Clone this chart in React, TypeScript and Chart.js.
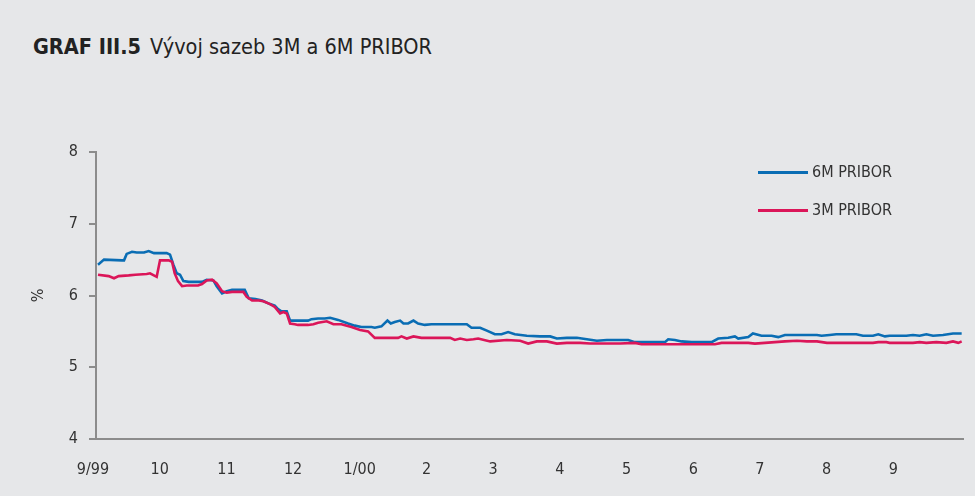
import React, { useEffect, useRef } from "react";
import { Chart, registerables } from "chart.js";

Chart.register(...registerables);

// x positions are in months since the start of September 1999
const MONTH_LABELS = ["9/99", "10", "11", "12", "1/00", "2", "3", "4", "5", "6", "7", "8", "9"];

const PRIBOR_6M_X = [
  0.03, 0.12, 0.39, 0.42, 0.46, 0.54, 0.61, 0.72, 0.79, 0.87, 1.06, 1.11, 1.16, 1.21, 1.26, 1.31,
  1.39, 1.59, 1.66, 1.76, 1.81, 1.89, 1.96, 2.04, 2.23, 2.29, 2.39, 2.49, 2.61, 2.68, 2.73, 2.78,
  2.86, 2.91, 2.98, 3.18, 3.23, 3.33, 3.43, 3.51, 3.63, 3.78, 3.88, 3.98, 4.13, 4.18, 4.28, 4.37,
  4.42, 4.48, 4.56, 4.61, 4.68, 4.76, 4.83, 4.93, 5.03, 5.56, 5.63, 5.76, 5.86, 5.98, 6.08, 6.18,
  6.28, 6.46, 6.66, 6.81, 6.91, 7.06, 7.21, 7.36, 7.51, 7.66, 7.98, 8.08, 8.53, 8.58, 8.68, 8.78,
  8.93, 9.23, 9.33, 9.48, 9.58, 9.63, 9.78, 9.85, 9.98, 10.13, 10.23, 10.33, 10.81, 10.88, 11.0,
  11.1, 11.4, 11.5, 11.65, 11.73, 11.83, 11.9, 12.15, 12.25, 12.35, 12.45, 12.55, 12.7, 12.85, 12.98,
];
const PRIBOR_6M = [
  6.43, 6.5, 6.49, 6.49, 6.58, 6.61, 6.6, 6.6, 6.62, 6.59, 6.59, 6.57, 6.43, 6.31, 6.29, 6.2,
  6.19, 6.19, 6.22, 6.21, 6.13, 6.03, 6.06, 6.08, 6.08, 5.96, 5.95, 5.93, 5.88, 5.86, 5.81, 5.78,
  5.78, 5.65, 5.65, 5.65, 5.67, 5.68, 5.68, 5.69, 5.66, 5.61, 5.58, 5.56, 5.56, 5.55, 5.57, 5.65,
  5.61, 5.63, 5.65, 5.61, 5.61, 5.65, 5.61, 5.59, 5.6, 5.6, 5.55, 5.55, 5.51, 5.46, 5.46, 5.49,
  5.46, 5.44, 5.43, 5.43, 5.4, 5.41, 5.41, 5.39, 5.37, 5.38, 5.38, 5.35, 5.35, 5.39, 5.38, 5.36,
  5.35, 5.35, 5.4, 5.41, 5.43, 5.4, 5.42, 5.47, 5.44, 5.44, 5.42, 5.45, 5.45, 5.44, 5.45,
  5.46, 5.46, 5.44, 5.44, 5.46, 5.43, 5.44, 5.44, 5.45, 5.44, 5.46, 5.44, 5.45, 5.47, 5.47,
];

const PRIBOR_3M_X = [
  0.03, 0.19, 0.27, 0.34, 0.49, 0.59, 0.76, 0.81, 0.91, 0.96, 1.09, 1.14, 1.18, 1.23, 1.29, 1.36,
  1.53, 1.59, 1.66, 1.74, 1.81, 1.89, 1.96, 2.04, 2.21, 2.26, 2.34, 2.44, 2.51, 2.61, 2.68, 2.76,
  2.81, 2.86, 2.91, 2.98, 3.03, 3.18, 3.26, 3.33, 3.46, 3.56, 3.68, 3.83, 3.96, 4.08, 4.18, 4.53,
  4.58, 4.66, 4.76, 4.88, 5.31, 5.38, 5.46, 5.56, 5.66, 5.73, 5.91, 6.16, 6.36, 6.48, 6.61, 6.76,
  6.91, 7.06, 7.26, 7.41, 7.86, 8.08, 8.18, 9.28, 9.38, 9.78, 9.88, 10.03, 10.18, 10.33, 10.51,
  10.66, 10.81, 10.96, 11.65, 11.73, 11.85, 11.9, 12.25, 12.35, 12.45, 12.6, 12.75, 12.85, 12.93, 12.98,
];
const PRIBOR_3M = [
  6.29, 6.27, 6.24, 6.27, 6.28, 6.29, 6.3, 6.31, 6.26, 6.49, 6.49, 6.47, 6.31, 6.2, 6.13, 6.14,
  6.14, 6.16, 6.21, 6.22, 6.17, 6.06, 6.04, 6.05, 6.05, 5.98, 5.93, 5.93, 5.92, 5.88, 5.84, 5.75,
  5.77, 5.75, 5.61, 5.6, 5.59, 5.59, 5.6, 5.62, 5.64, 5.6, 5.6, 5.56, 5.52, 5.5, 5.41, 5.41,
  5.43, 5.4, 5.43, 5.41, 5.41, 5.38, 5.4, 5.38, 5.39, 5.4, 5.36, 5.38, 5.37, 5.33, 5.36, 5.36,
  5.33, 5.34, 5.34, 5.33, 5.33, 5.34, 5.32, 5.32, 5.34, 5.34, 5.33, 5.34, 5.35, 5.36, 5.37,
  5.36, 5.36, 5.34, 5.34, 5.35, 5.35, 5.34, 5.34, 5.35, 5.34, 5.35, 5.34, 5.36, 5.34, 5.36,
];

const Y_TICKS = [4, 5, 6, 7, 8];

const BLUE = "#0a6db4";
const RED = "#db1659";
const BG = "#e6e7e9";
const AXIS = "#8c8c8c";
const TEXT = "#333333";
const FONT = "'Liberation Sans Narrow', 'DejaVu Sans Condensed', 'Open Sans', sans-serif";

function pts(xs: number[], ys: number[]) {
  return xs.map((x, i) => ({ x, y: ys[i] }));
}

export default function App() {
  const ref = useRef<HTMLCanvasElement | null>(null);

  useEffect(() => {
    document.body.style.margin = "0";
    const canvas = ref.current;
    if (!canvas) return;
    const chart = new Chart(canvas, {
      type: "line",
      data: {
        datasets: [
          {
            label: "3M PRIBOR",
            data: pts(PRIBOR_3M_X, PRIBOR_3M),
            borderColor: RED,
            backgroundColor: RED,
            borderWidth: 2.6,
            pointRadius: 0,
            tension: 0,
          },
          {
            label: "6M PRIBOR",
            data: pts(PRIBOR_6M_X, PRIBOR_6M),
            borderColor: BLUE,
            backgroundColor: BLUE,
            borderWidth: 2.6,
            pointRadius: 0,
            tension: 0,
          },
        ],
      },
      options: {
        animation: false,
        responsive: false,
        maintainAspectRatio: false,
        events: [],
        layout: { padding: { left: 0, right: 12, top: 152, bottom: 0 } },
        plugins: { legend: { display: false }, tooltip: { enabled: false }, title: { display: false } },
        scales: {
          x: {
            type: "linear",
            min: 0,
            max: 13,
            afterFit: (s: any) => {
              s.height = 57;
            },
            afterBuildTicks: (s: any) => {
              s.ticks = MONTH_LABELS.map((_, i) => ({ value: i }));
            },
            grid: { display: false },
            border: { display: true, color: AXIS, width: 2 },
            ticks: {
              autoSkip: false,
              maxRotation: 0,
              padding: 13,
              labelOffset: -3,
              color: TEXT,
              font: { family: FONT, size: 16 },
              callback: (v: any) => MONTH_LABELS[Math.round(Number(v))] ?? "",
            },
          },
          y: {
            min: 4,
            max: 8,
            afterFit: (s: any) => {
              s.width = 96;
            },
            afterBuildTicks: (s: any) => {
              s.ticks = Y_TICKS.map((v) => ({ value: v }));
            },
            grid: { drawOnChartArea: false, drawTicks: true, tickLength: 7, color: AXIS, lineWidth: 2 },
            border: { display: true, color: AXIS, width: 2 },
            ticks: {
              padding: 11,
              color: TEXT,
              font: { family: FONT, size: 16 },
            },
            title: {
              display: true,
              text: "%",
              color: TEXT,
              font: { family: FONT, size: 16 },
              padding: { top: 29, bottom: 0 },
            },
          },
        },
      },
    });
    return () => chart.destroy();
  }, []);

  const legendItem = (top: number, color: string, text: string) => (
    <div style={{ position: "absolute", left: 758, top: top - 12, height: 24, display: "flex", alignItems: "center" }}>
      <div style={{ width: 50, height: 3, background: color }} />
      <span style={{ marginLeft: 4, fontFamily: FONT, fontSize: 16, color: TEXT, lineHeight: "24px" }}>{text}</span>
    </div>
  );

  return (
    <div style={{ position: "relative", width: 975, height: 496, background: BG, overflow: "hidden" }}>
      <div
        style={{
          position: "absolute",
          left: 33,
          top: 32,
          fontFamily: FONT,
          fontSize: 21.5,
          color: "#222",
          whiteSpace: "nowrap",
          lineHeight: "30px",
        }}
      >
        <span style={{ fontWeight: "bold" }}>GRAF III.5</span>
        <span style={{ marginLeft: 9 }}>Vývoj sazeb 3M a 6M PRIBOR</span>
      </div>
      <canvas ref={ref} width={975} height={496} style={{ position: "absolute", left: 0, top: 0 }} />
      {legendItem(172, BLUE, "6M PRIBOR")}
      {legendItem(210, RED, "3M PRIBOR")}
    </div>
  );
}
